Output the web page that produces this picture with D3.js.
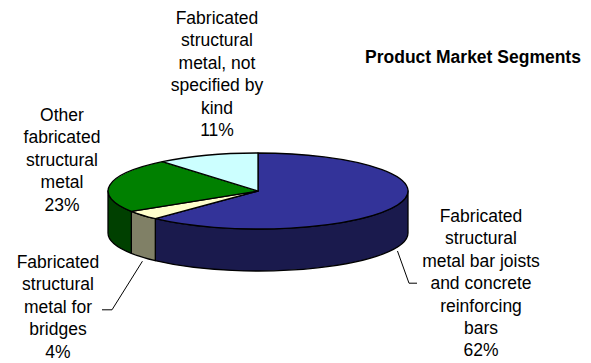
<!DOCTYPE html>
<html>
<head>
<meta charset="utf-8">
<script src="https://cdn.jsdelivr.net/npm/d3@7"></script>
<style>
  body { margin: 0; background: #fff; }
  text { font-family: "Liberation Sans", Arial, sans-serif; fill: #000; }
</style>
</head>
<body>
<div id="chart"></div>
<script>
// Segment data (clockwise from 12 o'clock)
var segments = [
    "Fabricated structural metal bar joists and concrete reinforcing bars",
    "Fabricated structural metal for bridges",
    "Other fabricated structural metal",
    "Fabricated structural metal, not specified by kind"
];
var shares = [62, 4, 23, 11];
var labelLines = [
    ["Fabricated", "structural", "metal bar joists", "and concrete", "reinforcing", "bars", "62%"],
    ["Fabricated", "structural", "metal for", "bridges", "4%"],
    ["Other", "fabricated", "structural", "metal", "23%"],
    ["Fabricated", "structural", "metal, not", "specified by", "kind", "11%"]
];
var chartTitle = "Product Market Segments";

// Colours: top face and darker side wall
var topColors = ["#333399", "#ffffcc", "#008000", "#ccffff"];
var sideColors = ["#1a1a4d", "#808066", "#004000", "#668080"];

// Layout
var svgWidth = 591, svgHeight = 363;
var cx = 258, cy = 191, rx = 150, ry = 38, depth = 42;
var fontSize = 17.5, lineH = 22.4;
// label block: centre x, first baseline y; leader: which line it points at, elbow x offset, y offset
var labelPos = [
    { x: 481, y: 222, leader: { line: 3, ex: -72, ey: -6, tail: 8 } },
    { x: 58, y: 268, leader: { line: 2, ex: 54, ey: -3, tail: -10 } },
    { x: 62, y: 121, leader: null },
    { x: 217, y: 24, leader: null }
];

var svg = d3.select("#chart").append("svg")
    .attr("width", svgWidth)
    .attr("height", svgHeight);

var pie = d3.pie().sort(null).value(d => d);
var arcs = pie(shares);

// point on the ellipse at angle a (0 = top, clockwise), dropped by dy
function pt(a, dy) {
    return [cx + rx * Math.sin(a), cy - ry * Math.cos(a) + (dy || 0)];
}

// Side walls: only the front half (angles between PI/2 and 3PI/2) shows
var frontLo = Math.PI / 2, frontHi = 3 * Math.PI / 2;
arcs.forEach(function(d, i) {
    var a0 = Math.max(d.startAngle, frontLo),
        a1 = Math.min(d.endAngle, frontHi);
    if (a1 <= a0) return;
    var p0 = pt(a0), p1 = pt(a1), q1 = pt(a1, depth), q0 = pt(a0, depth);
    var large = (a1 - a0) > Math.PI ? 1 : 0;
    var path = "M" + p0 + "A" + rx + "," + ry + " 0 " + large + " 1 " + p1 +
        "L" + q1 + "A" + rx + "," + ry + " 0 " + large + " 0 " + q0 + "Z";
    svg.append("path")
        .attr("d", path)
        .attr("fill", sideColors[i])
        .attr("stroke", "#000")
        .attr("stroke-width", 1.3)
        .attr("stroke-linejoin", "round");
});

// Top faces
svg.selectAll(".slice")
    .data(arcs)
    .join("path")
        .attr("class", "slice")
        .attr("d", function(d) {
            var p0 = pt(d.startAngle), p1 = pt(d.endAngle);
            var large = (d.endAngle - d.startAngle) > Math.PI ? 1 : 0;
            return "M" + cx + "," + cy + "L" + p0 + "A" + rx + "," + ry +
                " 0 " + large + " 1 " + p1 + "Z";
        })
        .attr("fill", (d, i) => topColors[i])
        .attr("stroke", "#000")
        .attr("stroke-width", 1.3)
        .attr("stroke-linejoin", "round");

// Leader lines from slice side wall to the label
arcs.forEach(function(d, i) {
    var lp = labelPos[i];
    if (!lp.leader) return;
    var L = lp.leader;
    var mid = (d.startAngle + d.endAngle) / 2;
    var start = pt(mid, depth + 4);
    var ey = lp.y + L.line * lineH + L.ey;
    var ex = lp.x + L.ex;
    var pts = [start, [ex, ey], [ex + L.tail, ey]];
    svg.append("path")
        .attr("d", d3.line()(pts))
        .attr("fill", "none")
        .attr("stroke", "#000")
        .attr("stroke-width", 1);
});

// Labels
labelLines.forEach(function(lines, i) {
    var lp = labelPos[i];
    var t = svg.append("text")
        .attr("text-anchor", "middle")
        .style("font-size", fontSize + "px");
    lines.forEach(function(s, j) {
        t.append("tspan")
            .attr("x", lp.x)
            .attr("y", lp.y + j * lineH)
            .text(s);
    });
});

// Title
svg.append("text")
    .attr("x", 473)
    .attr("y", 63)
    .attr("text-anchor", "middle")
    .style("font-size", "17.5px")
    .style("font-weight", "bold")
    .text(chartTitle);
</script>
</body>
</html>
